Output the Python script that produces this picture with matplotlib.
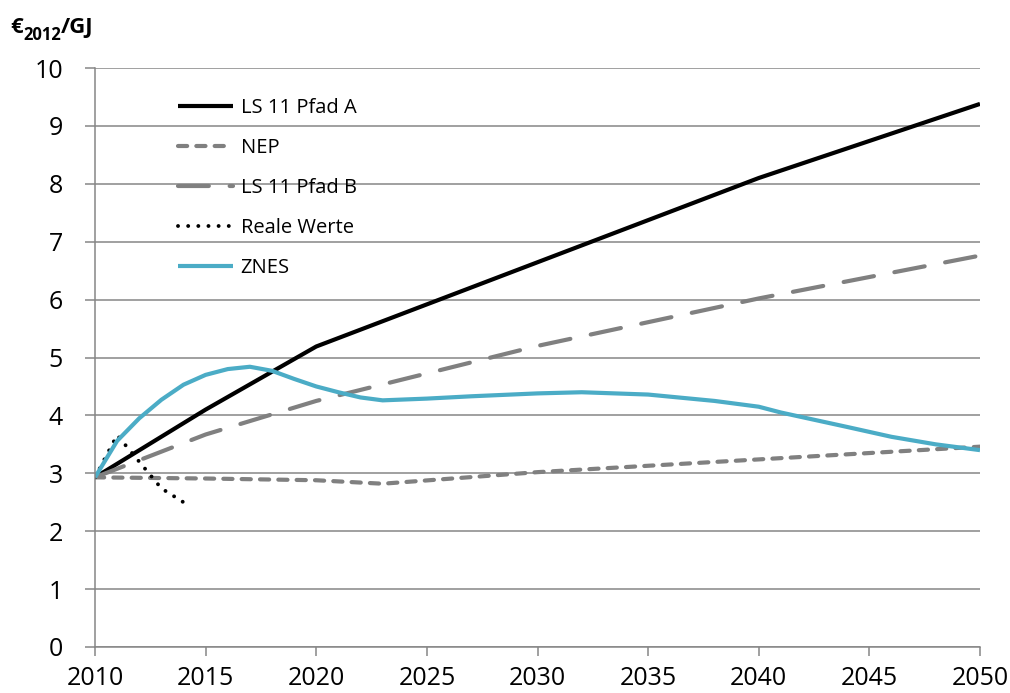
import matplotlib
matplotlib.use("Agg")
import matplotlib.pyplot as plt

# Preisverläufe in €2012/GJ
years_a = [2010, 2015, 2020, 2040, 2050]
pfad_a = [2.93, 4.10, 5.19, 8.10, 9.38]

years_nep = [2010, 2015, 2020, 2023, 2030, 2040, 2050]
nep = [2.93, 2.91, 2.88, 2.82, 3.02, 3.24, 3.46]

years_b = [2010, 2015, 2020, 2030, 2040, 2050]
pfad_b = [2.93, 3.67, 4.25, 5.20, 6.02, 6.76]

years_real = [2010, 2011, 2012, 2013, 2014]
reale_werte = [2.93, 3.66, 3.20, 2.74, 2.50]

years_znes = [2010, 2011, 2012, 2013, 2014, 2015, 2016, 2017, 2018, 2019,
              2020, 2021, 2022, 2023, 2025, 2027, 2030, 2032, 2035, 2038,
              2040, 2041, 2044, 2046, 2048, 2050]
znes = [2.93, 3.56, 3.95, 4.27, 4.53, 4.70, 4.80, 4.84, 4.77, 4.63,
        4.50, 4.40, 4.31, 4.26, 4.29, 4.33, 4.38, 4.40, 4.36, 4.25,
        4.15, 4.05, 3.80, 3.63, 3.50, 3.40]

x_ticks = list(range(2010, 2051, 5))
y_ticks = list(range(0, 11))

GRID = '#868686'
FONT = ['Open Sans', 'DejaVu Sans']

plt.rcParams['font.family'] = FONT

fig = plt.figure(figsize=(10.1, 6.93), dpi=100, facecolor='white')
ax = fig.add_axes([95 / 1010, 46 / 693, 885 / 1010, 579 / 693])

lw = 3.0
ax.plot(years_a, pfad_a, color='black', lw=lw, solid_capstyle='butt', label='LS 11 Pfad A')
ax.plot(years_nep, nep, color='#808080', lw=lw, dashes=(2.2, 2.2),
        dash_capstyle='round', label='NEP')
ax.plot(years_b, pfad_b, color='#808080', lw=lw, dashes=(7.4, 5.0),
        dash_capstyle='round', label='LS 11 Pfad B')
ax.plot(years_real, reale_werte, color='black', lw=2.8, dashes=(0.01, 2.6),
        dash_capstyle='round', label='Reale Werte')
ax.plot(years_znes, znes, color='#4BACC6', lw=lw, solid_capstyle='butt',
        solid_joinstyle='round', label='ZNES')

ax.set_xlim(2010, 2050)
ax.set_ylim(0, 10)
ax.set_xticks(x_ticks)
ax.set_yticks(y_ticks)
ax.tick_params(axis='x', direction='out', length=6.5, width=1.1, color=GRID,
               labelsize=18, pad=7)
ax.tick_params(axis='y', direction='out', length=7, width=1.1, color=GRID,
               labelsize=18, pad=16)

ax.yaxis.grid(True, color=GRID, lw=1.1)
ax.set_axisbelow(True)
for side in ['top', 'right']:
    ax.spines[side].set_visible(False)
for side in ['left', 'bottom']:
    ax.spines[side].set_color(GRID)
    ax.spines[side].set_linewidth(1.1)

ax.legend(loc='upper left', bbox_to_anchor=(0.094, 0.948), frameon=False,
          borderpad=0, borderaxespad=0, handlelength=2.7, handletextpad=0.4,
          labelspacing=0.99, prop={'family': FONT, 'size': 14.5})

# Einheit oben links: €, tiefgestelltes 2012, /GJ
t1 = fig.text(10 / 1010, 1 - 33 / 693, '€', fontsize=16, fontweight='bold',
              ha='left', va='baseline')
t2 = ax.annotate('2012', xy=(1, 0), xycoords=t1, xytext=(0.5, -4),
                 textcoords='offset points', fontsize=12, fontweight='bold',
                 ha='left', va='bottom', annotation_clip=False)
ax.annotate('/GJ', xy=(1, 0), xycoords=t2, xytext=(0, 4),
            textcoords='offset points', fontsize=16, fontweight='bold',
            ha='left', va='bottom', annotation_clip=False)

fig.savefig('out.png', dpi=100, facecolor='white')
